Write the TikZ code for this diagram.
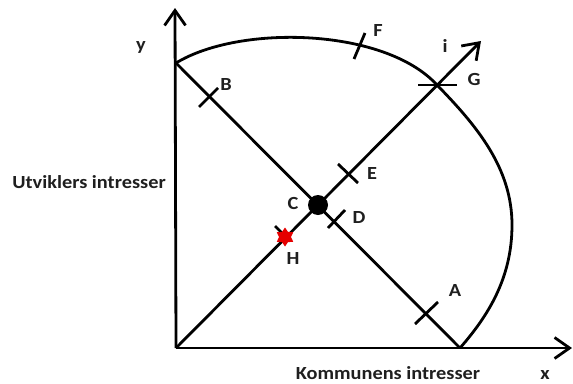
\documentclass[tikz,border=0pt]{standalone}
\usepackage{fontspec}
\setmainfont{Carlito}[FakeStretch=1.1]
\usetikzlibrary{arrows.meta,shapes.geometric}
\begin{document}
\begin{tikzpicture}[x=1pt,y=-1pt,
  ln/.style={line width=2.8pt},
  tk/.style={line width=2.8pt},
  lbl/.style={font=\fontsize{18.5}{21}\selectfont\bfseries, inner sep=0pt, text=black!88},
  barb/.style={-{Straight Barb[length=15pt,width=21pt,line width=2.8pt]}}]
\useasboundingbox (0,0) rectangle (573,383);
% key points
\coordinate (O) at (176,348);
\coordinate (Yend) at (175,8);
\coordinate (Xend) at (572,348);
\coordinate (Q) at (176,63);
\coordinate (P) at (460,348);
\coordinate (Iend) at (481,41);
\coordinate (Gp) at (437,85);
\coordinate (R) at (512,225);
% axes
\draw[ln,barb] (O) -- (Yend);
\draw[ln,barb] (O) -- (Xend);
% diagonals
\draw[ln] (Q) -- (P);
\draw[ln,barb] (O) -- (Iend);
% arc
\draw[ln] (Q) .. controls (240,24) and (385,28) .. (Gp)
          .. controls (477,126) and (512,168) .. (R)
          .. controls (512,278) and (488,316) .. (P);
% ticks
\coordinate (tB1) at (199,107); \coordinate (tB2) at (218,88);
\draw[tk] (tB1) -- (tB2);
\coordinate (tF1) at (354,59); \coordinate (tF2) at (365,33);
\draw[tk] (tF1) -- (tF2);
\coordinate (tG1) at (418,85); \coordinate (tG2) at (457,85);
\draw[tk] (tG1) -- (tG2);
\coordinate (tE1) at (338,164); \coordinate (tE2) at (358,183);
\draw[tk] (tE1) -- (tE2);
\coordinate (tD1) at (328,228); \coordinate (tD2) at (345,210);
\draw[tk] (tD1) -- (tD2);
\coordinate (tA1) at (415,324); \coordinate (tA2) at (438,302);
\draw[tk] (tA1) -- (tA2);
% H mark
\coordinate (tH1) at (275,226); \coordinate (tH2) at (287,238);
\draw[tk] (tH1) -- (tH2);
\node[star, star points=6, star point ratio=1.6, fill=red!90!black, minimum size=19pt, inner sep=0pt] (Hm) at (285,237) {};
% C dot
\node[circle, fill=black, minimum size=20pt, inner sep=0pt] (Cdot) at (318,205) {};
% labels
\node[lbl] (lB) at (226,84) {B};
\node[lbl] (lF) at (378,31) {F};
\node[lbl] (li) at (445,46) {i};
\node[lbl] (lG) at (474,79) {G};
\node[lbl] (lE) at (372,173) {E};
\node[lbl] (lC) at (293,203) {C};
\node[lbl] (lD) at (359,217) {D};
\node[lbl] (lH) at (293,258) {H};
\node[lbl] (lA) at (455,290) {A};
\node[lbl] (ly) at (141,47) {y};
\node[lbl] (lx) at (545,375) {x};
\node[lbl] (lK) at (388,373) {Kommunens intresser};
\node[lbl] (lU) at (89,182) {Utviklers intresser};
\end{tikzpicture}
\end{document}
